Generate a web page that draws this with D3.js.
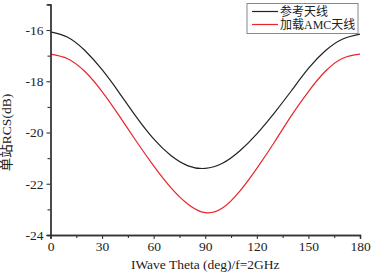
<!DOCTYPE html>
<html><head><meta charset="utf-8">
<script src="https://cdn.jsdelivr.net/npm/d3@7"></script>
<style>
html,body{margin:0;padding:0;background:#fff;}
svg{display:block;}
text{font-family:"Liberation Serif","Noto Sans CJK SC",serif;}
</style></head>
<body>
<script>
const theta = [0,10,20,30,40,50,60,70,80,90,100,110,120,130,140,150,160,170,180];
const refAntenna = [-16.07,-16.28,-16.8,-17.55,-18.45,-19.4,-20.25,-20.9,-21.3,-21.4,-21.2,-20.72,-20.05,-19.25,-18.38,-17.5,-16.8,-16.35,-16.16];
const amcAntenna = [-16.94,-17.12,-17.62,-18.4,-19.35,-20.35,-21.3,-22.15,-22.8,-23.13,-22.95,-22.3,-21.4,-20.4,-19.35,-18.4,-17.6,-17.1,-16.94];
const seriesNames = ["参考天线","加载AMC天线"];
const seriesColors = ["#222222","#e8262b"];
const xTicks = [0,30,60,90,120,150,180];
const yTicks = [-24,-22,-20,-18,-16];
const xTitle = "IWave Theta (deg)/f=2GHz";
const yTitle = "单站RCS(dB)";

const W = 371, H = 273;
const svg = d3.select("body").append("svg").attr("width", W).attr("height", H);
const x = d3.scaleLinear().domain([0,180]).range([50.5,360]);
const y = d3.scaleLinear().domain([-24,-15]).range([235,4.4]);
const axisColor = "#333";

// curves
const series = [refAntenna, amcAntenna];
const line = d3.line().x((d,i)=>x(theta[i])).y(d=>y(d)).curve(d3.curveNatural);
series.forEach((s,k)=>{
  svg.append("path").datum(s).attr("d", line).attr("fill","none")
    .attr("stroke", seriesColors[k]).attr("stroke-width",1.2);
});

// axes
const gx = svg.append("g").attr("transform",`translate(0,${y(-24)})`)
  .call(d3.axisBottom(x).tickValues(xTicks).tickSize(4).tickPadding(2).tickFormat(d3.format("d")));
const gxm = svg.append("g").attr("transform",`translate(0,${y(-24)})`)
  .call(d3.axisBottom(x).tickValues(d3.range(15,180,30)).tickSize(3).tickFormat(""));
const gy = svg.append("g").attr("transform",`translate(${x(0)},0)`)
  .call(d3.axisLeft(y).tickValues(yTicks).tickSize(4).tickPadding(3).tickFormat(d3.format("d")));
const gym = svg.append("g").attr("transform",`translate(${x(0)},0)`)
  .call(d3.axisLeft(y).tickValues([-23,-21,-19,-17,-15]).tickSize(3).tickFormat(""));
[gx,gxm,gy,gym].forEach(g=>{
  g.select(".domain").attr("stroke",axisColor).attr("stroke-width",1.3);
  g.selectAll(".tick line").attr("stroke",axisColor).attr("stroke-width",1.1);
  g.selectAll("text").attr("fill","#222").style("font-size","13.5px")
   .style("font-family",'"Liberation Serif",serif');
});
gy.selectAll("text").text(d=>d<0?"-"+Math.abs(d):d);

// titles
svg.append("text").attr("x",(x(0)+x(180))/2).attr("y",269).attr("text-anchor","middle")
  .style("font-size","13.5px").attr("fill","#222").text(xTitle);
svg.append("text").attr("transform",`translate(11,${y(-20)}) rotate(-90)`).attr("text-anchor","middle")
  .style("font-size","13.5px").attr("fill","#222").text(yTitle);

// legend
const lg = svg.append("g");
lg.append("rect").attr("x",247).attr("y",3.5).attr("width",111).attr("height",30)
  .attr("fill","#fff").attr("stroke","#888").attr("stroke-width",1);
seriesNames.forEach((n,k)=>{
  const yy = 11.5 + k*13;
  lg.append("line").attr("x1",252).attr("x2",278).attr("y1",yy).attr("y2",yy)
    .attr("stroke",seriesColors[k]).attr("stroke-width",1.2);
  lg.append("text").attr("x",280).attr("y",yy).attr("dy","0.35em").style("font-size","12px").attr("fill","#222").text(n);
});
</script>
</body></html>
